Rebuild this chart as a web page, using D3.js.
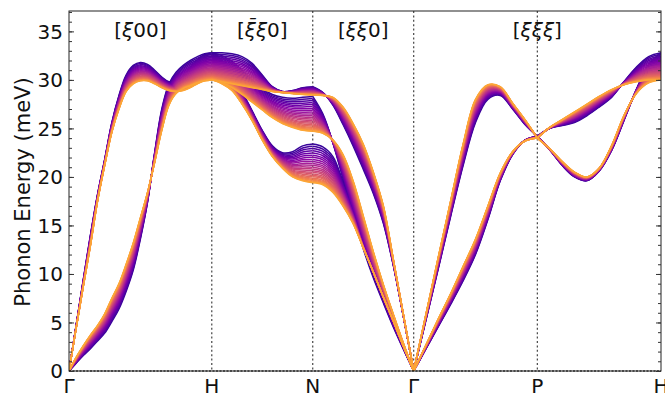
<!DOCTYPE html>
<html><head><meta charset="utf-8">
<script src="https://cdn.jsdelivr.net/npm/d3@7"></script>
<style>
body{margin:0;background:#fff}
svg{display:block}
text{font-family:"DejaVu Sans",sans-serif;fill:#111}
</style>
</head><body>
<svg id="chart" width="665" height="400"></svg>
<script>
// ---------------- data ----------------
// high-symmetry points along the BCC path (distance in units of 2π/a)
const pointLabels = ["Γ", "H", "N", "Γ", "P", "H"];
const pointQ = [0, 1, 1.7071, 2.4142, 3.2802, 4.1463];
// direction labels, centred between path points [from,to]
const directionLabels = [
  {parts: [["[", 0], ["ξ", 1], ["00]", 0]], from: 0, to: 1},
  {parts: [["[", 0], ["ξ\u0304", 1], ["ξ", 1], ["0]", 0]], from: 1, to: 2},
  {parts: [["[", 0], ["ξ", 1], ["ξ", 1], ["0]", 0]], from: 2, to: 3},
  {parts: [["[", 0], ["ξ", 1], ["ξ", 1], ["ξ", 1], ["]", 0]], from: 3, to: 5}
];
const energyTicks = [0, 5, 10, 15, 20, 25, 30, 35];
const energyMinorTicks = d3.range(0, 38, 1);
const energyMax = 37.1;

// relative position of each drawn curve between the first (cold, purple)
const fanWeights = [0, 0.060, 0.120, 0.178, 0.235, 0.290, 0.345, 0.398, 0.450, 0.501,
  0.550, 0.598, 0.644, 0.688, 0.731, 0.772, 0.811, 0.848, 0.882, 0.914, 0.942, 0.967, 0.988, 1];

// fractional positions of sample points inside each segment
const fracFine = [0, .05, .1, .15, .2, .25, .3, .35, .4, .45, .5, .55, .6, .65, .7, .75, .8, .85, .9, .95, 1];
const fracCoarse = [0, .1, .2, .3, .4, .5, .6, .7, .8, .9, 1];

// phonon energies (meV): Γ–H [ξ00]
const ghLongCold = [0, 4.7, 9.4, 14.0, 18.2, 21.8, 25.6, 28.4, 30.5, 31.5, 31.8, 31.6, 31.0, 30.3, 29.8, 29.8, 30.4, 31.3, 32.1, 32.6, 32.8];
const ghLongHot  = [0, 4.4, 8.7, 12.9, 17.5, 21.2, 24.6, 27.0, 28.8, 29.6, 29.9, 29.9, 29.6, 29.2, 28.9, 28.8, 28.9, 29.2, 29.6, 29.9, 30.0];
const ghTransCold = [0, 0.8, 1.6, 2.3, 3.1, 3.9, 5.1, 6.4, 8.2, 10.4, 13.6, 17.4, 22.5, 27.0, 29.6, 30.8, 31.5, 32.0, 32.4, 32.7, 32.8];
const ghTransHot  = [0, 1.4, 2.6, 3.7, 4.7, 5.9, 7.5, 9.0, 11.0, 13.2, 15.8, 18.4, 21.5, 24.8, 27.4, 28.6, 29.1, 29.4, 29.7, 29.9, 30.0];
// H–N [ξ̄ξ0]
const hnUpperCold = [32.8, 32.8, 32.7, 32.4, 31.7, 30.5, 29.3, 28.8, 28.9, 29.2, 29.3];
const hnUpperHot  = [30.0, 29.8, 29.6, 29.4, 29.2, 29.0, 28.8, 28.7, 28.6, 28.5, 28.45];
const hnMiddleCold = [32.8, 32.5, 31.9, 31.0, 30.0, 29.1, 28.5, 28.2, 28.1, 28.2, 28.3];
const hnMiddleHot  = [30.0, 29.7, 29.2, 28.5, 27.7, 26.9, 26.1, 25.5, 25.1, 24.8, 24.7];
const hnLowerCold = [32.8, 32.0, 30.6, 28.8, 26.8, 24.8, 23.2, 22.5, 22.6, 23.2, 23.4];
const hnLowerHot  = [30.0, 29.6, 28.9, 27.5, 25.8, 23.8, 22.1, 20.9, 20.0, 19.6, 19.4];
// N–Γ [ξξ0]
const ngUpperCold = [29.3, 28.7, 27.4, 25.4, 23.2, 20.8, 18.3, 15.2, 10.8, 5.5, 0];
const ngUpperHot  = [28.45, 28.4, 28.2, 27.2, 25.5, 23.4, 20.5, 17.0, 11.4, 5.7, 0];
const ngMiddleCold = [28.3, 26.5, 23.5, 19.8, 16.0, 12.6, 9.6, 7.0, 4.5, 2.2, 0];
const ngMiddleHot  = [24.7, 24.5, 23.8, 22.3, 19.6, 16.0, 12.3, 8.9, 5.8, 2.8, 0];
const ngLowerCold = [23.4, 23.1, 22.1, 19.5, 16.6, 13.0, 10.2, 7.6, 5.1, 2.5, 0];
const ngLowerHot  = [19.4, 19.2, 18.4, 17.0, 15.2, 12.7, 10.2, 7.6, 5.1, 2.5, 0];
// Γ–P [ξξξ]
const gpLongCold = [0, 5.3, 10.6, 16.0, 21.2, 25.6, 28.0, 28.4, 27.0, 25.4, 24.2];
const gpLongHot  = [0, 5.9, 11.8, 17.6, 23.4, 28.0, 29.5, 29.3, 27.6, 25.9, 24.0];
const gpTransCold = [0, 2.3, 4.6, 6.9, 9.3, 12.0, 15.6, 19.6, 22.3, 23.8, 24.2];
const gpTransHot  = [0, 2.7, 5.4, 8.0, 10.8, 13.6, 17.0, 20.4, 22.6, 23.7, 24.0];
// P–H [ξξξ]
const phLowerCold = [24.2, 22.8, 21.2, 20.0, 19.6, 20.6, 22.7, 25.8, 29.0, 31.6, 32.8];
const phLowerHot  = [24.0, 22.9, 21.6, 20.5, 20.0, 20.9, 23.2, 26.3, 28.6, 29.7, 30.0];
const phUpperCold = [24.2, 25.0, 25.3, 25.6, 26.3, 27.2, 28.2, 29.8, 31.3, 32.4, 32.8];
const phUpperHot  = [24.0, 25.1, 25.9, 26.7, 27.5, 28.3, 29.0, 29.5, 29.8, 30.0, 30.0];

const segments = [
  {from: 0, to: 1, frac: fracFine,   branches: [[ghLongCold, ghLongHot], [ghTransCold, ghTransHot]]},
  {from: 1, to: 2, frac: fracCoarse, branches: [[hnUpperCold, hnUpperHot], [hnMiddleCold, hnMiddleHot], [hnLowerCold, hnLowerHot]]},
  {from: 2, to: 3, frac: fracCoarse, branches: [[ngUpperCold, ngUpperHot], [ngMiddleCold, ngMiddleHot], [ngLowerCold, ngLowerHot]]},
  {from: 3, to: 4, frac: fracCoarse, branches: [[gpLongCold, gpLongHot], [gpTransCold, gpTransHot]]},
  {from: 4, to: 5, frac: fracCoarse, branches: [[phLowerCold, phLowerHot], [phUpperCold, phUpperHot]]}
];

// ---------------- drawing ----------------
const box = {left: 69, right: 661, top: 11, bottom: 371};
const svg = d3.select("#chart");

const x = d3.scaleLinear().domain([pointQ[0], pointQ[pointQ.length - 1]]).range([box.left, box.right]);
const y = d3.scaleLinear().domain([0, energyMax]).range([box.bottom, box.top]);
const color = i => d3.interpolatePlasma(0.08 + 0.72 * i / (fanWeights.length - 1));

svg.append("defs").append("clipPath").attr("id", "clip")
  .append("rect").attr("x", box.left).attr("y", box.top)
  .attr("width", box.right - box.left).attr("height", box.bottom - box.top);

// vertical dotted lines at inner high-symmetry points
svg.append("g").selectAll("line").data(pointQ.slice(1, -1)).join("line")
  .attr("x1", d => x(d)).attr("x2", d => x(d))
  .attr("y1", box.top).attr("y2", box.bottom)
  .attr("stroke", "#444").attr("stroke-width", 1.2).attr("stroke-dasharray", "2,2.4");

// curves
const line = d3.line().x(d => x(d[0])).y(d => y(d[1])).curve(d3.curveCatmullRom.alpha(0.5));
const curvesG = svg.append("g").attr("clip-path", "url(#clip)");
fanWeights.forEach((w, i) => {
  const g = curvesG.append("g").attr("stroke", color(i));
  segments.forEach(seg => {
    const q0 = pointQ[seg.from], q1 = pointQ[seg.to];
    seg.branches.forEach(([cold, hot]) => {
      const pts = seg.frac.map((f, k) => [q0 + (q1 - q0) * f, cold[k] + (hot[k] - cold[k]) * w]);
      g.append("path").attr("d", line(pts)).attr("fill", "none").attr("stroke-width", 1.5);
    });
  });
});

// frame
svg.append("rect").attr("x", box.left).attr("y", box.top)
  .attr("width", box.right - box.left).attr("height", box.bottom - box.top)
  .attr("fill", "none").attr("stroke", "#222").attr("stroke-width", 1);
svg.append("line").attr("x1", box.left).attr("x2", box.right).attr("y1", y(0)).attr("y2", y(0))
  .attr("stroke", "#000").attr("stroke-width", 1.2).attr("stroke-dasharray", "2,1.5");

// y axes (ticks inward on both sides)
const yLeft = d3.axisRight(y).tickValues(energyTicks).tickSize(5).tickFormat("");
const yLeftMinor = d3.axisRight(y).tickValues(energyMinorTicks).tickSize(3).tickFormat("");
const yRight = d3.axisLeft(y).tickValues(energyTicks).tickSize(5).tickFormat("");
const yRightMinor = d3.axisLeft(y).tickValues(energyMinorTicks).tickSize(3).tickFormat("");
[[yLeft, box.left], [yLeftMinor, box.left], [yRight, box.right], [yRightMinor, box.right]].forEach(([ax, px]) => {
  const g = svg.append("g").attr("transform", `translate(${px},0)`).call(ax);
  g.select(".domain").remove();
  g.selectAll("line").attr("stroke", "#333");
});

// tick labels
svg.append("g").selectAll("text").data(energyTicks).join("text")
  .attr("x", box.left - 6).attr("y", d => y(d)).attr("dy", "0.36em")
  .attr("text-anchor", "end").attr("font-size", 20).text(d => d);

// y title
svg.append("text").attr("transform", `translate(22,192) rotate(-90)`)
  .attr("text-anchor", "middle").attr("dy", "0.36em").attr("font-size", 21).text("Phonon Energy (meV)");

// high-symmetry labels
svg.append("g").selectAll("text").data(pointQ).join("text")
  .attr("x", d => x(d)).attr("y", 393).attr("text-anchor", "middle").attr("font-size", 20)
  .text((d, i) => pointLabels[i]);

// direction labels
directionLabels.forEach(lab => {
  const t = svg.append("text").attr("x", (x(pointQ[lab.from]) + x(pointQ[lab.to])) / 2).attr("y", 37)
    .attr("text-anchor", "middle").attr("font-size", 20);
  lab.parts.forEach(([s, it]) => t.append("tspan").attr("font-style", it ? "italic" : "normal").text(s));
});
</script>
</body></html>
